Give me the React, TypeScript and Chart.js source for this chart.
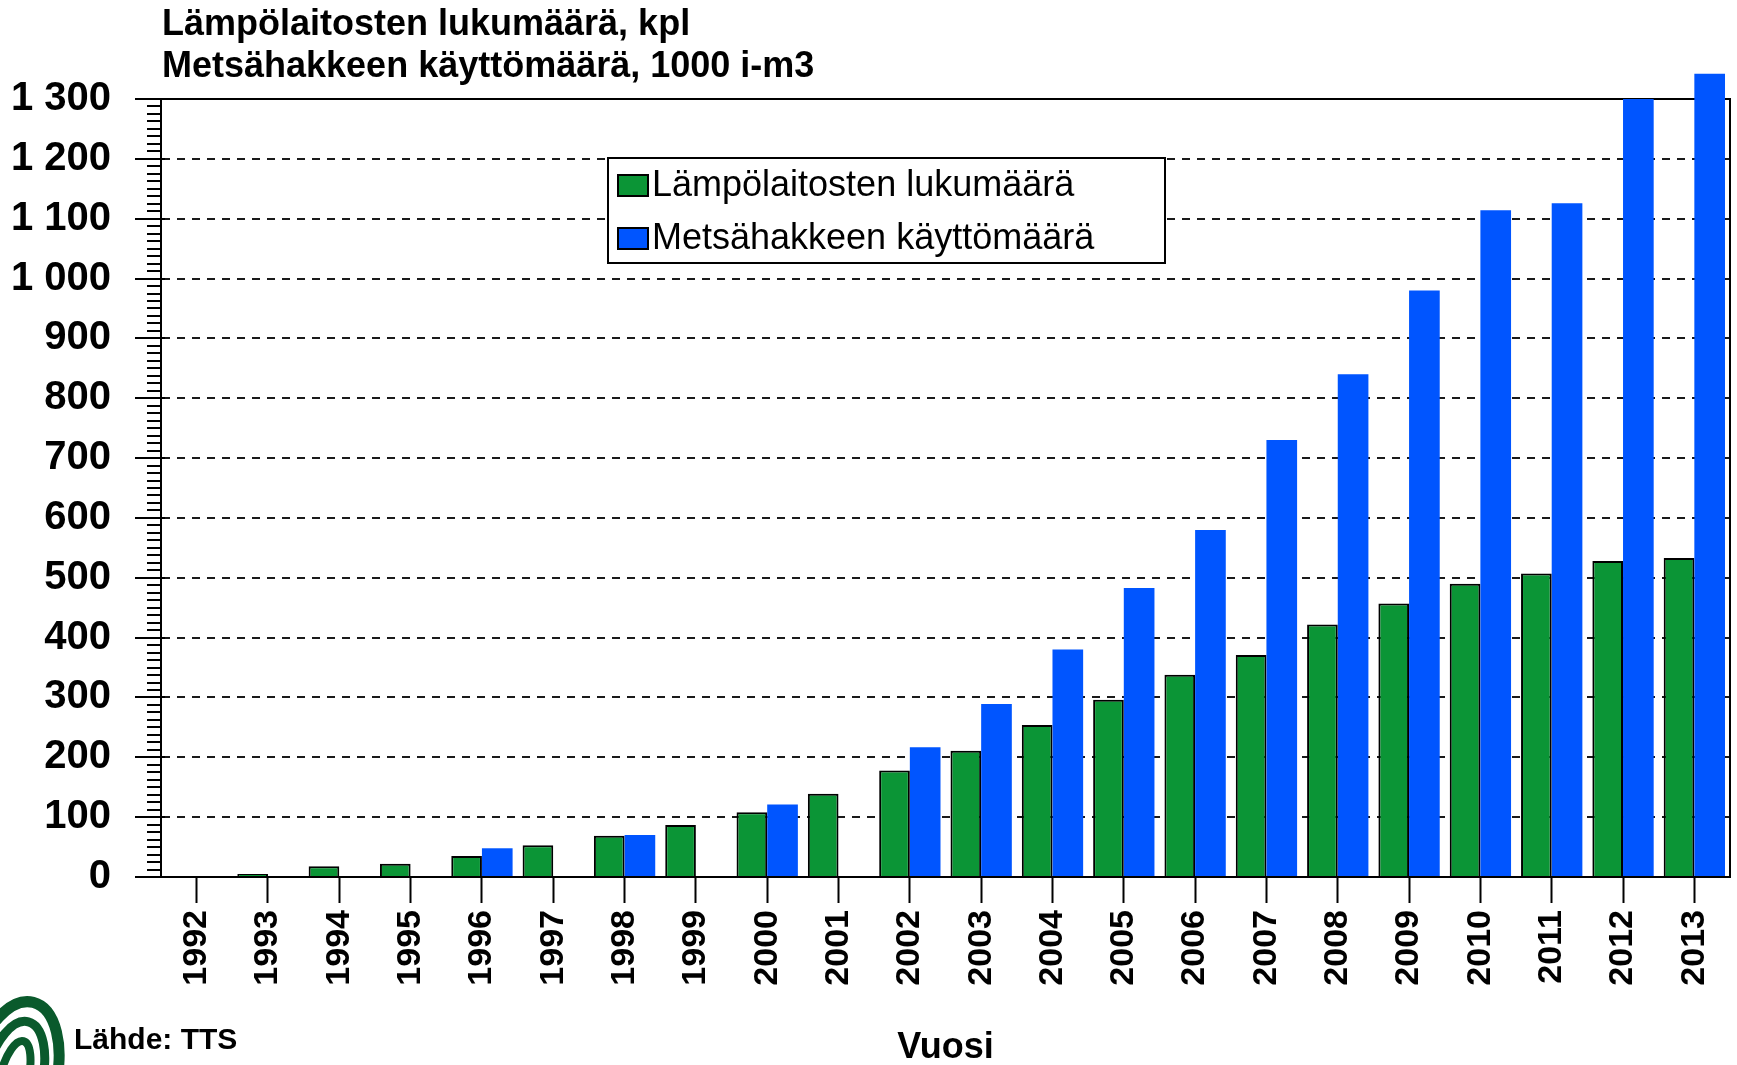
import React, { useEffect, useRef } from 'react';
import { Chart, registerables } from 'chart.js';

Chart.register(...registerables);

// ---- data ----
const years = ['1992', '1993', '1994', '1995', '1996', '1997', '1998', '1999', '2000', '2001', '2002', '2003', '2004', '2005', '2006', '2007', '2008', '2009', '2010', '2011', '2012', '2013'];
const plantCounts = [0, 5, 18, 22, 35, 53, 69, 87, 108, 139, 178, 211, 254, 296, 338, 371, 422, 457, 490, 507, 528, 533];
const chipUse = [null, null, null, null, 48, null, 70, null, 121, null, 217, 289, 380, 483, 580, 730, 840, 980, 1114, 1126, 1300, 1342];
const seriesLabels = ['Lämpölaitosten lukumäärä', 'Metsähakkeen käyttömäärä'];
const titleLines = ['Lämpölaitosten lukumäärä, kpl', 'Metsähakkeen käyttömäärä, 1000 i-m3'];
const xAxisTitle = 'Vuosi';
const sourceText = 'Lähde: TTS';
const yMin = 0;
const yMax = 1300;
const yStep = 100;
const yMinorStep = 12.5;

const GREEN = '#0B9536';
const BLUE = '#0055FF';
const LOGO_GREEN = '#0A5A2C';
const FONT = "'Liberation Sans', Arial, sans-serif";

const W = 1737;
const H = 1065;

function fmtTick(v: number): string {
  if (v >= 1000) {
    return `${Math.floor(v / 1000)} ${String(v % 1000).padStart(3, '0')}`;
  }
  return String(v);
}

const minorTicksPlugin = {
  id: 'minorTicks',
  afterDraw(chart: any) {
    const ys = chart.scales.y;
    const ctx = chart.ctx;
    const left = chart.chartArea.left;
    ctx.save();
    ctx.strokeStyle = '#000';
    ctx.lineWidth = 2;
    for (let v = yMin; v <= yMax; v += yMinorStep) {
      if (v % yStep === 0) continue;
      const py = Math.round(ys.getPixelForValue(v));
      ctx.beginPath();
      ctx.moveTo(left - 14, py);
      ctx.lineTo(left, py);
      ctx.stroke();
    }
    for (let v = yMin; v <= yMax; v += yStep) {
      const py = Math.round(ys.getPixelForValue(v));
      ctx.beginPath();
      ctx.moveTo(left, py);
      ctx.lineTo(left + 4, py);
      ctx.stroke();
    }
    ctx.restore();
  },
};

const framePlugin = {
  id: 'frame',
  beforeDatasetsDraw(chart: any) {
    const { left, right, top, bottom } = chart.chartArea;
    const ctx = chart.ctx;
    ctx.save();
    ctx.strokeStyle = '#000';
    ctx.lineWidth = 2;
    ctx.beginPath();
    ctx.moveTo(left, top);
    ctx.lineTo(right, top);
    ctx.lineTo(right, bottom);
    ctx.stroke();
    ctx.restore();
  },
};

const legendPlugin = {
  id: 'boxLegend',
  afterDatasetsDraw(chart: any) {
    const ctx = chart.ctx;
    const bx = 608, by = 158, bw = 557, bh = 105;
    ctx.save();
    ctx.fillStyle = '#fff';
    ctx.fillRect(bx, by, bw, bh);
    ctx.strokeStyle = '#000';
    ctx.lineWidth = 2;
    ctx.strokeRect(bx, by, bw, bh);
    ctx.font = `36px ${FONT}`;
    ctx.textBaseline = 'middle';
    ctx.textAlign = 'left';
    chart.data.datasets.forEach((ds: any, i: number) => {
      const cy = by + 27 + i * 53;
      ctx.fillStyle = ds.backgroundColor;
      ctx.fillRect(618, cy - 10, 30, 21);
      ctx.strokeStyle = '#000';
      ctx.lineWidth = 2;
      ctx.strokeRect(618, cy - 10, 30, 21);
      ctx.fillStyle = '#000';
      ctx.fillText(ds.label, 652, cy + 1);
    });
    ctx.restore();
  },
};

const textPlugin = {
  id: 'texts',
  afterDraw(chart: any) {
    const ctx = chart.ctx;
    const { left, right } = chart.chartArea;
    ctx.save();
    ctx.fillStyle = '#000';
    ctx.textBaseline = 'alphabetic';
    ctx.textAlign = 'left';
    ctx.font = `bold 36px ${FONT}`;
    ctx.fillText(titleLines[0], 162, 35);
    ctx.fillText(titleLines[1], 162, 77);
    ctx.textAlign = 'center';
    ctx.font = `bold 36px ${FONT}`;
    ctx.fillText(xAxisTitle, (left + right) / 2, 1058);
    ctx.textAlign = 'left';
    ctx.font = `bold 30px ${FONT}`;
    ctx.fillText(sourceText, 74, 1049);
    // logo: curved stripes
    ctx.strokeStyle = LOGO_GREEN;
    ctx.lineCap = 'butt';
    const cx = 14, cy = 1078;
    [[42, 78, 11], [28, 58, 9], [14, 38, 8]].forEach(([rx, ry, lw]) => {
      ctx.lineWidth = lw;
      ctx.beginPath();
      ctx.ellipse(cx, cy, rx, ry, 0.25, Math.PI * 1.0, Math.PI * 2.0);
      ctx.stroke();
    });
    ctx.restore();
  },
};

export default function App() {
  const ref = useRef<HTMLCanvasElement | null>(null);

  useEffect(() => {
    if (!ref.current) return;
    const chart = new Chart(ref.current, {
      type: 'bar',
      data: {
        labels: years,
        datasets: [
          {
            label: seriesLabels[0],
            data: plantCounts,
            backgroundColor: GREEN,
            borderColor: '#000',
            borderWidth: 2,
            categoryPercentage: 0.86,
            barPercentage: 1.0,
          },
          {
            label: seriesLabels[1],
            data: chipUse as any,
            backgroundColor: BLUE,
            borderWidth: 0,
            categoryPercentage: 0.86,
            barPercentage: 1.0,
            clip: false as any,
          },
        ],
      },
      options: {
        animation: false,
        responsive: false,
        maintainAspectRatio: false,
        layout: { padding: { top: 99, right: 7, left: 0, bottom: 0 } },
        plugins: {
          legend: { display: false },
          tooltip: { enabled: false },
          title: { display: false },
        },
        scales: {
          x: {
            offset: true,
            grid: {
              display: true,
              drawOnChartArea: false,
              drawTicks: true,
              tickLength: 26,
              tickWidth: 2,
              tickColor: '#000',
              offset: false,
            },
            border: { display: true, color: '#000', width: 2 },
            ticks: {
              autoSkip: false,
              maxRotation: 90,
              minRotation: 90,
              padding: 7,
              color: '#000',
              font: { family: FONT, size: 34, weight: 'bold' },
            },
            afterFit(s: any) {
              s.height = H - 877;
              s.paddingLeft = 0;
              s.paddingRight = 0;
            },
          },
          y: {
            min: yMin,
            max: yMax,
            ticks: {
              stepSize: yStep,
              padding: 24,
              color: '#000',
              font: { family: FONT, size: 40, weight: 'bold' },
              callback: (v: any) => fmtTick(Number(v)),
            },
            grid: {
              color: '#1a1a1a',
              lineWidth: 2,
              drawTicks: true,
              tickLength: 26,
              tickColor: '#000',
              tickWidth: 2,
              tickBorderDash: [],
            } as any,
            border: { display: true, color: '#000', width: 2, dash: [8, 7] },
            afterFit(s: any) {
              s.width = 161;
              s.paddingTop = 0;
              s.paddingBottom = 0;
            },
          },
        },
      } as any,
      plugins: [framePlugin, legendPlugin, minorTicksPlugin, textPlugin],
    });
    return () => chart.destroy();
  }, []);

  return (
    <div style={{ position: 'absolute', left: 0, top: 0, width: W, height: H, background: '#fff' }}>
      <canvas ref={ref} width={W} height={H} style={{ display: 'block', width: W, height: H }} />
    </div>
  );
}
